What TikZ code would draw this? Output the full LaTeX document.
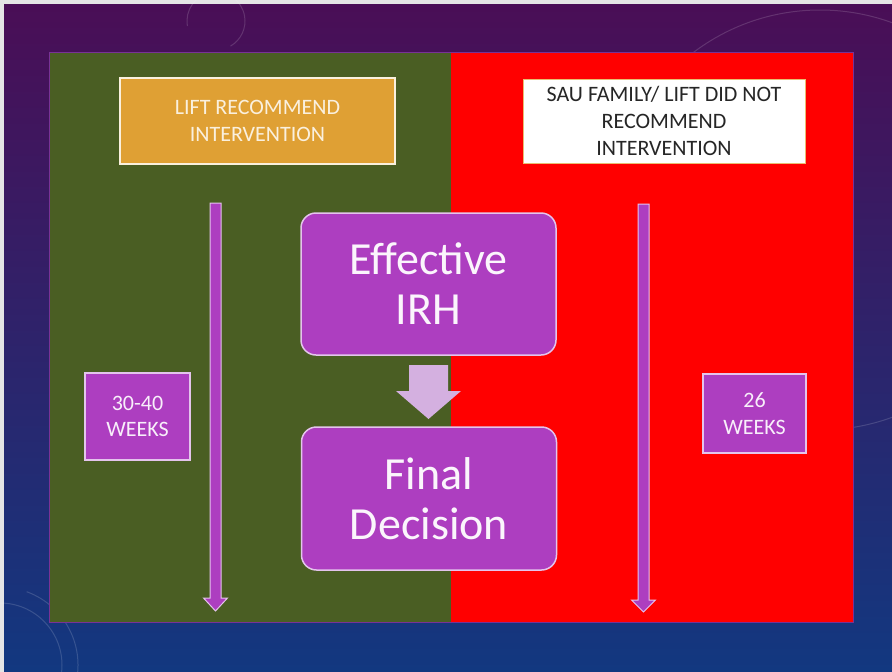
\documentclass[tikz,border=0pt]{standalone}
\usepackage{fontspec}
\setmainfont{Carlito}
\definecolor{bgtop}{RGB}{74,14,86}
\definecolor{bgmid}{RGB}{48,28,110}
\definecolor{bgbot}{RGB}{18,56,128}
\definecolor{olive}{RGB}{74,94,35}
\definecolor{redp}{RGB}{255,0,0}
\definecolor{orangeb}{RGB}{223,160,52}
\definecolor{purp}{RGB}{173,62,192}
\definecolor{purpedge}{RGB}{228,196,236}
\definecolor{lav}{RGB}{212,176,224}
\definecolor{cream}{RGB}{250,240,222}
\definecolor{panedge}{RGB}{120,50,150}
\begin{document}
\begin{tikzpicture}[x=1pt,y=-1pt,
  panel/.style={draw=panedge,line width=0.8pt},
  smallfont/.style={font=\fontsize{22}{26.7}\selectfont},
  bigfont/.style={font=\fontsize{46}{50}\selectfont},
  orangebox/.style={smallfont,fill=orangeb,draw=cream,line width=1.5pt,text=cream,align=center,inner sep=0pt,minimum width=275pt,minimum height=86pt},
  whitebox/.style={smallfont,fill=white,draw=orangeb!70,line width=1pt,text=black!85,align=center,inner sep=0pt,minimum width=282pt,minimum height=84pt},
  purpbox/.style={bigfont,fill=purp,draw=purpedge,line width=1.5pt,rounded corners=15pt,text=white!95!purp,align=center,inner sep=0pt,minimum width=255pt,minimum height=142pt},
  weekbox/.style={smallfont,fill=purp,draw=purpedge,line width=1.2pt,text=white!92!purp,align=center,inner sep=0pt},
  longarrow/.style={fill=purp,draw=purpedge,line width=1pt},
  deco/.style={draw=white,opacity=0.15,line width=1pt}]
\useasboundingbox (0,0) rectangle (892,672);
\fill[black!10] (0,0) rectangle (892,672);
\shade[top color=bgtop,middle color=bgmid,bottom color=bgbot] (4,4) rectangle (892,672);
% faint background decorations
\draw[deco] (216,21) ++(170:29) arc (170:420:29);
\draw[deco] (820,220) circle (210);
\draw[deco] (850,130) ++(100:50) arc (100:250:50);
\draw[deco] (0,665) circle (62);
\draw[deco] (0,665) ++(-70:78) arc (-70:70:78);
% panels
\fill[olive] (49,52) rectangle (451,622);
\fill[redp] (451,52) rectangle (853,622);
\draw[panel] (49,52) rectangle (853,622);
% top boxes
\node[orangebox] (lift) at (257.5,121) {LIFT RECOMMEND\\INTERVENTION};
\node[whitebox] (sau) at (664,121) {SAU FAMILY/ LIFT DID NOT\\RECOMMEND\\INTERVENTION};
% long arrows
\coordinate (la) at (215.5,203);
\coordinate (ra) at (643.5,204);
\draw[longarrow] (210,203) -- (221,203) -- (221,598) -- (227.5,598) -- (215.5,611) -- (203.5,598) -- (210,598) -- cycle;
\draw[longarrow] (638,204) -- (649,204) -- (649,600) -- (655.5,600) -- (643.5,612) -- (631.5,600) -- (638,600) -- cycle;
% centre boxes
\node[purpbox] (eff) at (428.5,284) {Effective\\IRH};
\node[purpbox,minimum height=143pt] (fin) at (429,498.5) {Final\\Decision};
\fill[lav] (409,365) -- (448,365) -- (448,391) -- (461,391) -- (428.5,419) -- (396,391) -- (409,391) -- cycle;
% week boxes
\node[weekbox,minimum width=105pt,minimum height=87pt] (w1) at (137.5,416.5) {30-40\\WEEKS};
\node[weekbox,minimum width=103pt,minimum height=79pt] (w2) at (754.5,413.5) {26\\WEEKS};
\end{tikzpicture}
\end{document}
